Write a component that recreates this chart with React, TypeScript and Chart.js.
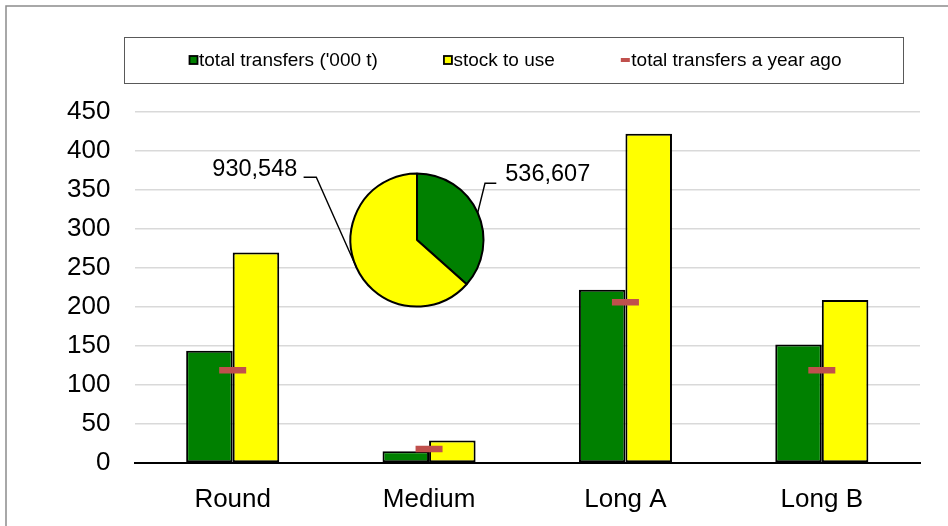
import React, { useEffect, useRef } from 'react';
import { Chart, registerables } from 'chart.js';

Chart.register(...registerables);

// ---------- data ----------
const categories = ['Round', 'Medium', 'Long A', 'Long B'];
const totalTransfers = [144, 15, 222, 152];
const stockToUse = [270, 29, 422, 209];
const transfersYearAgo = [119, 18, 206, 119];

const seriesLabels = ["total transfers ('000 t)", 'stock to use', 'total transfers a year ago'];

const yMin = 0;
const yMax = 450;
const yStep = 50;

const pieLabels = ['total transfers', 'stock to use'];
const pieValues = [536607, 930548];

// ---------- styles ----------
const FONT = '"Liberation Sans", Arial, sans-serif';
const GREEN = '#008000';
const YELLOW = '#FFFF00';
const RED = '#C0504D';

const LEGEND_STYLE = {
  frame: { x: 124, y: 37, w: 779, h: 46 },
  cx: 515.5,
  cy: 60,
  fontSize: 19,
  box: 8,
  dashW: 9,
  dashH: 4,
  markerGap: 1.5,
  itemGap: 66,
};

// label layout relative to the pie centre (per slice index)
const PIE_LABEL_LAYOUT = [
  { elbow: [68, -56.7], end: [79.3, -56.7], text: [88.3, -65], align: 'left' },
  { elbow: [-100.7, -62.7], end: [-113.4, -62.7], text: [-119.7, -70.5], align: 'right' },
];

const framePlugin = {
  id: 'outerFrame',
  beforeDraw(chart: any) {
    const { ctx } = chart;
    ctx.save();
    ctx.fillStyle = '#fff';
    ctx.fillRect(0, 0, chart.width, chart.height);
    ctx.strokeStyle = '#8c8c8c';
    ctx.lineWidth = 1.5;
    ctx.strokeRect(6, 6, 2000, 2000);
    ctx.restore();
  },
};

const boxLegendPlugin = {
  id: 'boxLegend',
  afterDraw(chart: any) {
    const { ctx } = chart;
    const S = LEGEND_STYLE;
    ctx.save();
    ctx.font = `${S.fontSize}px ${FONT}`;
    const items = chart.data.datasets.map((d: any) => {
      const mw = d.type === 'line' ? S.dashW : S.box;
      const tw = ctx.measureText(d.label).width;
      return { d, mw, tw, w: mw + S.markerGap + tw };
    });
    const total = items.reduce((s: number, it: any) => s + it.w, 0) + S.itemGap * (items.length - 1);
    let x = S.cx - total / 2;
    ctx.textBaseline = 'middle';
    ctx.textAlign = 'left';
    items.forEach((it: any) => {
      const d = it.d;
      if (d.type === 'line') {
        ctx.fillStyle = d.pointBorderColor;
        ctx.fillRect(x, S.cy - S.dashH / 2, S.dashW, S.dashH);
      } else {
        ctx.fillStyle = d.backgroundColor;
        ctx.fillRect(x, S.cy - S.box / 2, S.box, S.box);
        ctx.strokeStyle = '#000';
        ctx.lineWidth = 1.8;
        ctx.strokeRect(x, S.cy - S.box / 2, S.box, S.box);
      }
      ctx.fillStyle = '#000';
      ctx.fillText(d.label, x + it.mw + S.markerGap, S.cy + 0.5);
      x += it.w + S.itemGap;
    });
    ctx.strokeStyle = '#595959';
    ctx.lineWidth = 1;
    ctx.strokeRect(S.frame.x + 0.5, S.frame.y + 0.5, S.frame.w, S.frame.h);
    ctx.restore();
  },
};

const pieLabelPlugin = {
  id: 'pieLabels',
  afterDatasetsDraw(chart: any) {
    const { ctx } = chart;
    const meta = chart.getDatasetMeta(0);
    ctx.save();
    ctx.font = `23.5px ${FONT}`;
    ctx.fillStyle = '#000';
    ctx.strokeStyle = '#000';
    ctx.lineWidth = 1.4;
    ctx.textBaseline = 'middle';
    meta.data.forEach((arc: any, i: number) => {
      const p = arc.getProps(['x', 'y', 'startAngle', 'endAngle', 'outerRadius'], true);
      const mid = (p.startAngle + p.endAngle) / 2;
      const ax = p.x + Math.cos(mid) * p.outerRadius;
      const ay = p.y + Math.sin(mid) * p.outerRadius;
      const L = PIE_LABEL_LAYOUT[i];
      ctx.beginPath();
      ctx.moveTo(ax, ay);
      ctx.lineTo(p.x + L.elbow[0], p.y + L.elbow[1]);
      ctx.lineTo(p.x + L.end[0], p.y + L.end[1]);
      ctx.stroke();
      ctx.textAlign = L.align;
      const v = chart.data.datasets[0].data[i] as number;
      ctx.fillText(v.toLocaleString('en-US'), p.x + L.text[0], p.y + L.text[1]);
    });
    ctx.restore();
  },
};

export default function App() {
  const mainRef = useRef<HTMLCanvasElement>(null);
  const pieRef = useRef<HTMLCanvasElement>(null);

  useEffect(() => {
    if (!mainRef.current || !pieRef.current) return;
    const tickFont = { family: FONT, size: 26 };
    const main = new Chart(mainRef.current, {
      type: 'bar',
      data: {
        labels: categories,
        datasets: [
          {
            type: 'bar',
            label: seriesLabels[0],
            data: totalTransfers,
            backgroundColor: GREEN,
            borderColor: '#000',
            borderWidth: 2,
            borderSkipped: false,
            categoryPercentage: 0.474,
            barPercentage: 1,
            order: 1,
          },
          {
            type: 'bar',
            label: seriesLabels[1],
            data: stockToUse,
            backgroundColor: YELLOW,
            borderColor: '#000',
            borderWidth: 2,
            borderSkipped: false,
            categoryPercentage: 0.474,
            barPercentage: 1,
            order: 1,
          },
          {
            type: 'line',
            label: seriesLabels[2],
            data: transfersYearAgo,
            showLine: false,
            pointStyle: 'line',
            pointRadius: 13.5,
            pointHoverRadius: 13.5,
            pointBorderWidth: 6.5,
            pointHoverBorderWidth: 6.5,
            pointBorderColor: RED,
            pointBackgroundColor: RED,
            borderColor: RED,
            backgroundColor: RED,
            order: 0,
          } as any,
        ],
      },
      options: {
        responsive: false,
        animation: false,
        events: [],
        layout: { padding: { top: 112, right: 28, bottom: 0, left: 0 } },
        plugins: {
          legend: { display: false },
          tooltip: { enabled: false },
        },
        scales: {
          x: {
            grid: { display: false, drawTicks: false },
            border: { display: true, color: '#000', width: 2 },
            ticks: { font: tickFont, color: '#000', padding: 21 },
            afterFit: (s: any) => {
              s.height = 63;
              s.paddingLeft = 0;
              s.paddingRight = 0;
            },
          },
          y: {
            min: yMin,
            max: yMax,
            ticks: { stepSize: yStep, font: tickFont, color: '#000', padding: 24 },
            grid: { color: '#D9D9D9', lineWidth: 1.5, drawTicks: false },
            border: { display: false },
            afterFit: (s: any) => {
              s.width = 134.5;
              s.paddingTop = 0;
              s.paddingBottom = 0;
            },
          },
        },
      } as any,
      plugins: [framePlugin, boxLegendPlugin],
    });

    const pie = new Chart(pieRef.current, {
      type: 'pie',
      data: {
        labels: pieLabels,
        datasets: [
          {
            data: pieValues,
            backgroundColor: [GREEN, YELLOW],
            borderColor: '#000',
            borderWidth: 2,
            radius: 66.5,
          } as any,
        ],
      },
      options: {
        responsive: false,
        animation: false,
        events: [],
        layout: { padding: 0 },
        plugins: { legend: { display: false }, tooltip: { enabled: false } },
      } as any,
      plugins: [pieLabelPlugin],
    });

    return () => {
      main.destroy();
      pie.destroy();
    };
  }, []);

  return (
    <div style={{ position: 'absolute', left: 0, top: 0, width: 948, height: 526, overflow: 'hidden', background: '#fff' }}>
      <canvas ref={mainRef} width={948} height={526} style={{ position: 'absolute', left: 0, top: 0 }} />
      <canvas ref={pieRef} width={440} height={190} style={{ position: 'absolute', left: 197, top: 145 }} />
    </div>
  );
}
